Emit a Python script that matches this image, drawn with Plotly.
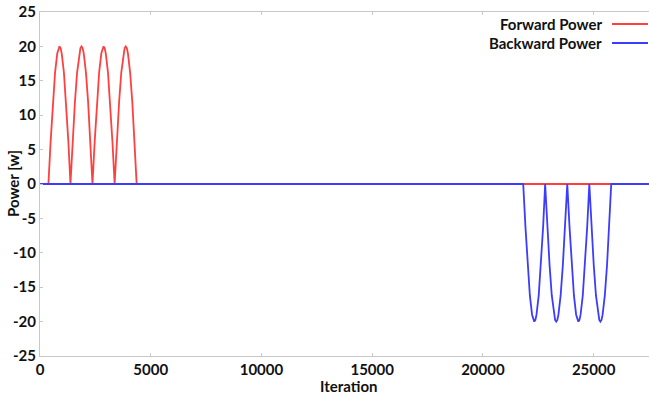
import plotly.graph_objects as go

# Forward power
fwd_x = [0, 380, 480, 580, 680, 780, 830, 880, 930, 980, 1080, 1180, 1280,
         1375, 1475, 1575, 1675, 1775, 1825, 1875, 1925, 1975, 2075, 2175, 2275,
         2370, 2470, 2570, 2670, 2770, 2820, 2870, 2920, 2970, 3070, 3170, 3270,
         3370, 3470, 3570, 3670, 3770, 3820, 3870, 3920, 3970, 4070, 4170, 4270,
         4365, 27500]
fwd_y = [0, 0, 6.2, 11.8, 16.2, 19.0, 19.75, 20, 19.75, 19.0, 16.2, 11.8, 6.2,
         0, 6.2, 11.8, 16.2, 19.0, 19.75, 20, 19.75, 19.0, 16.2, 11.8, 6.2,
         0, 6.2, 11.8, 16.2, 19.0, 19.75, 20, 19.75, 19.0, 16.2, 11.8, 6.2,
         0, 6.2, 11.8, 16.2, 19.0, 19.75, 20, 19.75, 19.0, 16.2, 11.8, 6.2,
         0, 0]

# Backward power
bwd_x = [0, 21820, 21920, 22020, 22120, 22220, 22270, 22320, 22370, 22420, 22520, 22620, 22720,
         22810, 22910, 23010, 23110, 23210, 23260, 23310, 23360, 23410, 23510, 23610, 23710,
         23810, 23910, 24010, 24110, 24210, 24260, 24310, 24360, 24410, 24510, 24610, 24710,
         24805, 24905, 25005, 25105, 25205, 25255, 25305, 25355, 25405, 25505, 25605, 25705,
         25795, 27500]
bwd_y = [0, 0, -6.2, -11.8, -16.2, -19.0, -19.75, -20, -19.75, -19.0, -16.2, -11.8, -6.2,
         0, -6.2, -11.8, -16.2, -19.0, -19.75, -20, -19.75, -19.0, -16.2, -11.8, -6.2,
         0, -6.2, -11.8, -16.2, -19.0, -19.75, -20, -19.75, -19.0, -16.2, -11.8, -6.2,
         0, -6.2, -11.8, -16.2, -19.0, -19.75, -20, -19.75, -19.0, -16.2, -11.8, -6.2,
         0, 0]

series_names = ["Forward Power", "Backward Power"]
series_colors = ["#ff4040", "#3c3cff"]
y_ticks = [-25, -20, -15, -10, -5, 0, 5, 10, 15, 20, 25]
y_tick_labels = ["-25", "-20", "-15", "-10", "-5", "0", "5", "10", "15", "20", "25"]
x_ticks = [0, 5000, 10000, 15000, 20000, 25000]
x_tick_labels = ["0", "5000", "10000", "15000", "20000", "25000"]

FONT = "Lato"
W, H = 649, 398
L, T, B = 40, 12, 42
PW = W - L
PH = H - T - B

fig = go.Figure()
fig.add_trace(go.Scatter(x=fwd_x, y=fwd_y, mode="lines", name=series_names[0],
                         line=dict(color=series_colors[0], width=1.8), showlegend=False))
fig.add_trace(go.Scatter(x=bwd_x, y=bwd_y, mode="lines", name=series_names[1],
                         line=dict(color=series_colors[1], width=1.8), showlegend=False))

axis_common = dict(showgrid=False, zeroline=False, showline=True, linecolor="#c8c8c8",
                   linewidth=1, ticks="inside", ticklen=3, tickcolor="#c8c8c8",
                   automargin=False,
                   tickfont=dict(family=FONT, size=15, color="#111"))

fig.update_layout(
    width=W, height=H,
    margin=dict(l=L, r=0, t=T, b=B, autoexpand=False),
    paper_bgcolor="white", plot_bgcolor="white",
    xaxis=dict(range=[0, 27500], tickvals=x_ticks,
               ticktext=["<b>%s</b>" % t for t in x_tick_labels],
               mirror="ticks", **axis_common),
    yaxis=dict(range=[-25, 25], tickvals=y_ticks,
               ticktext=["<b>%s</b>" % t for t in y_tick_labels], **axis_common),
    font=dict(family=FONT, color="#111"),
)

# axis titles
fig.add_annotation(text="<b>Iteration</b>", xref="paper", yref="paper", x=0.507,
                   y=-(H - T - PH - 1) / PH, xanchor="center", yanchor="bottom", showarrow=False,
                   font=dict(family=FONT, size=15, color="#111"))
fig.add_annotation(text="<b>Power [w]</b>", xref="paper", yref="paper", x=-27 / PW, y=0.5,
                   xanchor="center", yanchor="middle", textangle=-90, showarrow=False,
                   font=dict(family=FONT, size=15, color="#111"))

# legend (text on left, line sample on right)
for i, (name, col) in enumerate(zip(series_names, series_colors)):
    ypx = 24 + i * 19
    yp = 1 - (ypx - T) / PH
    fig.add_annotation(text="<b>%s</b>" % name, xref="paper", yref="paper",
                       x=(604 - L) / PW, y=yp, xanchor="right", yanchor="middle",
                       showarrow=False, font=dict(family=FONT, size=15, color="#111"))
    fig.add_shape(type="line", xref="paper", yref="paper",
                  x0=(612 - L) / PW, x1=(648 - L) / PW, y0=yp, y1=yp,
                  line=dict(color=col, width=2))

fig.write_html("out.html", config={"displayModeBar": False},
               post_script="document.body.style.margin='0';")
